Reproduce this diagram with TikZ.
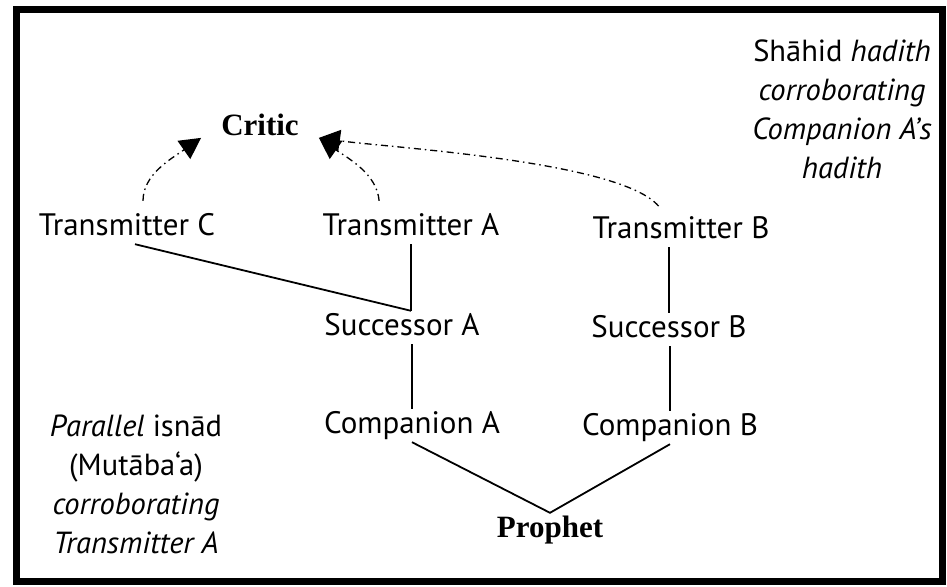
\documentclass[tikz,border=0pt]{standalone}
\usepackage{fontspec}
\setmainfont{PT Sans}
\newfontfamily\heavyserif{Liberation Serif}
\usetikzlibrary{arrows.meta,calc,positioning}

\begin{document}
\begin{tikzpicture}[x=1pt,y=1pt,
  person/.style={font=\fontsize{31}{39}\selectfont,text height=22pt,text depth=7pt,inner sep=2pt,anchor=base},
  chief/.style={person,font=\heavyserif\bfseries\fontsize{31}{39}\selectfont},
  note/.style={font=\fontsize{30.5}{39}\selectfont,align=center,inner sep=0pt,anchor=north},
  link/.style={line width=1.8pt},
  report/.style={line width=1.3pt,dash pattern=on 7pt off 4pt on 1.5pt off 4pt,
    -{Triangle[length=21pt,width=22pt]},shorten <=10pt}]
  \useasboundingbox (0,0) rectangle (947,-586);
  \draw[line width=7pt] (16,-10) rectangle (942,-581);

  \node[chief,inner xsep=20pt] (critic) at (260,-135) {Critic};
  \node[person] (tc) at (127,-235) {Transmitter C};
  \node[person] (ta) at (411,-235) {Transmitter A};
  \node[person] (tb) at (681,-238) {Transmitter B};
  \node[person] (sa) at (402,-335) {Successor A};
  \node[person] (sb) at (669,-337) {Successor B};
  \node[person] (ca) at (412,-433) {Companion A};
  \node[person] (cb) at (670,-435) {Companion B};
  \node[chief] (prophet) at (550,-537) {Prophet};

  \node[note] (shahid) at (842,-40) {Shāhid \textit{hadith}\\\textit{corroborating}\\\textit{Companion A’s}\\\textit{hadith}};
  \node[note] (parallel) at (136,-415) {\textit{Parallel} isnād\\(Mutāba‘a)\\\textit{corroborating}\\\textit{Transmitter A}};

  \draw[link] (ta.south) -- (ta.south |- sa.north) coordinate (join);
  \draw[link] ([xshift=8pt]tc.south) -- (join);
  \draw[link] (ca.north |- sa.south) -- (ca.north);
  \draw[link] (sb.north |- tb.south) -- (sb.north);
  \draw[link] (cb.north |- sb.south) -- (cb.north);
  \draw[link] (ca.south) -- (prophet.north) -- (cb.south);

  \draw[report] ([xshift=16pt]tc.north) to[out=90,in=215] (critic.190);
  \draw[report] ([xshift=-31pt]ta.north) to[out=95,in=-35] (critic.-10);
  \draw[report] ([xshift=-16pt]tb.north) to[out=130,in=-8,looseness=0.5] (critic.-10);
\end{tikzpicture}
\end{document}
